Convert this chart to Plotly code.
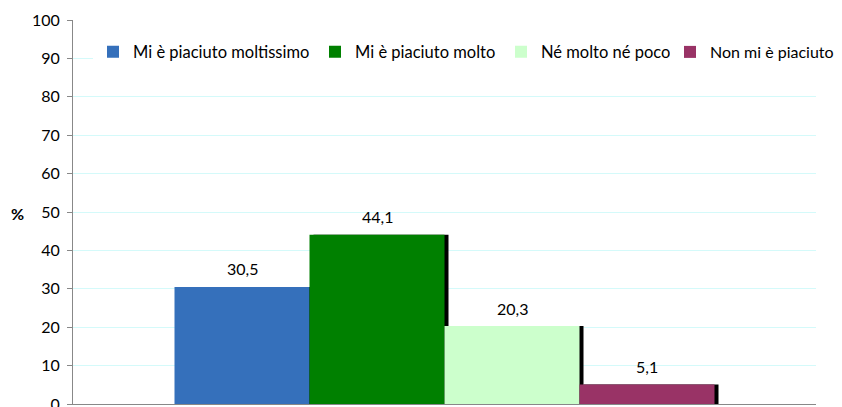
import plotly.graph_objects as go

categories = ["Mi è piaciuto moltissimo", "Mi è piaciuto molto", "Né molto né poco", "Non mi è piaciuto"]
values = [30.5, 44.1, 20.3, 5.1]
colors = ["#3570bb", "#008000", "#ccffcc", "#993366"]
y_ticks = [0, 10, 20, 30, 40, 50, 60, 70, 80, 90, 100]

FONT = "Lato"
FS = 16
BODY = 8  # page offset of the figure inside the html body
W, H = 842, 407
# plot area in page pixels
plot_left, plot_right, plot_top, plot_bottom = 73, 816, 20, 404
plot_w = plot_right - plot_left
plot_h = plot_bottom - plot_top
bar_w = 135 / plot_w
start = -2 * bar_w
shadow_dx = 4 / plot_w
legend_text_x = [133, 355, 541, 710]
legend_font = [16.5, 16.5, 16.5, 16]

def px_x(p):
    return (p - plot_left) / plot_w

def px_y(p):
    return (plot_bottom - p) / plot_h

fig = go.Figure()
# shadows
for i, (c, v) in enumerate(zip(categories, values)):
    fig.add_trace(go.Bar(x=[0], y=[v], width=bar_w, offset=start + i * bar_w + shadow_dx,
                         marker=dict(color="black", line=dict(width=0)),
                         showlegend=False, hoverinfo="skip"))
# bars
legends = {}
for i, (c, v, col) in enumerate(zip(categories, values, colors)):
    lname = "legend" if i == 0 else f"legend{i + 1}"
    fig.add_trace(go.Bar(x=[0], y=[v], name=c, width=bar_w, offset=start + i * bar_w,
                         marker=dict(color=col, line=dict(width=0)), legend=lname))
    legends[lname] = dict(orientation="h", x=px_x(legend_text_x[i] - 40), xanchor="left",
                          y=px_y(52), yanchor="middle", bgcolor="white",
                          font=dict(family=FONT, size=legend_font[i], color="#000"),
                          itemwidth=30)
    fig.add_annotation(x=start + (i + 0.5) * bar_w, y=v, xref="x", yref="y",
                       text=f"{v:.1f}".replace(".", ","), showarrow=False,
                       yshift=18, font=dict(family=FONT, size=FS, color="#000"))

fig.add_annotation(x=px_x(9), y=px_y(213), xref="paper", yref="paper", text="<b>%</b>",
                   showarrow=False, font=dict(family=FONT, size=FS, color="#000"))

fig.update_layout(
    width=W, height=H,
    margin=dict(l=plot_left - BODY, r=W - (plot_right - BODY), t=plot_top - BODY,
                b=H - (plot_bottom - BODY)),
    barmode="overlay",
    plot_bgcolor="white", paper_bgcolor="white",
    font=dict(family=FONT, size=FS, color="#000"),
    showlegend=True,
    xaxis=dict(range=[-0.5, 0.5], showticklabels=False, showgrid=False, zeroline=False,
               showline=True, linecolor="#888888", linewidth=1, ticks="", automargin=False),
    yaxis=dict(range=[0, 100], tickvals=y_ticks, showgrid=True, gridcolor="#d4fafa",
               gridwidth=1, zeroline=False, showline=True, linecolor="#888888", linewidth=1,
               ticks="outside", ticklen=5, tickcolor="#888888", automargin=False,
               tickfont=dict(family=FONT, size=FS), ticklabelstandoff=4),
    **legends,
)

fig.write_html("out.html")
